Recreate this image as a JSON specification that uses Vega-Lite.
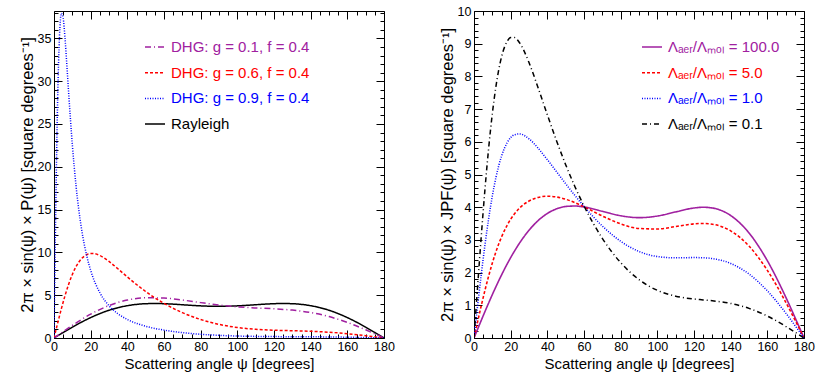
{
"$schema": "https://vega.github.io/schema/vega-lite/v6.json",
"padding": {"left": 18, "top": 4, "right": 5, "bottom": 5},
"spacing": 90,
"bounds": "flush",
"resolve": {"scale": {"color": "independent", "strokeDash": "independent", "strokeWidth": "independent"}, "legend": {"color": "independent", "strokeDash": "independent", "strokeWidth": "independent"}},
"config": {
  "font": "Liberation Sans",
  "view": {"stroke": "black", "strokeWidth": 1},
  "axis": {"labelFont": "Liberation Sans", "labelFontSize": 12.5, "labelColor": "black", "titleFont": "Liberation Sans", "titleFontSize": 15, "titleFontWeight": "normal", "titleColor": "black", "tickColor": "black", "tickWidth": 1, "domain": false, "grid": false, "labelFlush": false, "labelOverlap": false, "labelBound": false},
  "legend": {"labelFont": "Liberation Sans", "labelFontSize": 15, "labelLimit": 400, "symbolType": "stroke", "symbolSize": 400, "rowPadding": 6.7, "labelOffset": 5, "orient": "none", "padding": 0}
},
"datasets": {
"left": [
{"s":"Rayleigh","psi":0,"v":0},{"s":"Rayleigh","psi":5,"v":0.643},{"s":"Rayleigh","psi":10,"v":1.266},{"s":"Rayleigh","psi":15,"v":1.852},{"s":"Rayleigh","psi":20,"v":2.384},{"s":"Rayleigh","psi":25,"v":2.849},{"s":"Rayleigh","psi":30,"v":3.239},{"s":"Rayleigh","psi":35,"v":3.547},{"s":"Rayleigh","psi":40,"v":3.775},{"s":"Rayleigh","psi":45,"v":3.926},{"s":"Rayleigh","psi":50,"v":4.007},{"s":"Rayleigh","psi":55,"v":4.029},{"s":"Rayleigh","psi":60,"v":4.007},{"s":"Rayleigh","psi":65,"v":3.954},{"s":"Rayleigh","psi":70,"v":3.885},{"s":"Rayleigh","psi":75,"v":3.815},{"s":"Rayleigh","psi":80,"v":3.755},{"s":"Rayleigh","psi":85,"v":3.715},{"s":"Rayleigh","psi":90,"v":3.701},{"s":"Rayleigh","psi":95,"v":3.715},{"s":"Rayleigh","psi":100,"v":3.755},{"s":"Rayleigh","psi":105,"v":3.815},{"s":"Rayleigh","psi":110,"v":3.885},{"s":"Rayleigh","psi":115,"v":3.954},{"s":"Rayleigh","psi":120,"v":4.007},{"s":"Rayleigh","psi":125,"v":4.029},{"s":"Rayleigh","psi":130,"v":4.007},{"s":"Rayleigh","psi":135,"v":3.926},{"s":"Rayleigh","psi":140,"v":3.775},{"s":"Rayleigh","psi":145,"v":3.547},{"s":"Rayleigh","psi":150,"v":3.239},{"s":"Rayleigh","psi":155,"v":2.849},{"s":"Rayleigh","psi":160,"v":2.384},{"s":"Rayleigh","psi":165,"v":1.852},{"s":"Rayleigh","psi":170,"v":1.266},{"s":"Rayleigh","psi":175,"v":0.643},{"s":"Rayleigh","psi":180,"v":0},
{"s":"DHG: g = 0.1, f = 0.4","psi":0,"v":0},{"s":"DHG: g = 0.1, f = 0.4","psi":5,"v":0.749},{"s":"DHG: g = 0.1, f = 0.4","psi":10,"v":1.476},{"s":"DHG: g = 0.1, f = 0.4","psi":20,"v":2.785},{"s":"DHG: g = 0.1, f = 0.4","psi":30,"v":3.793},{"s":"DHG: g = 0.1, f = 0.4","psi":40,"v":4.430},{"s":"DHG: g = 0.1, f = 0.4","psi":50,"v":4.699},{"s":"DHG: g = 0.1, f = 0.4","psi":60,"v":4.665},{"s":"DHG: g = 0.1, f = 0.4","psi":70,"v":4.437},{"s":"DHG: g = 0.1, f = 0.4","psi":80,"v":4.133},{"s":"DHG: g = 0.1, f = 0.4","psi":90,"v":3.851},{"s":"DHG: g = 0.1, f = 0.4","psi":100,"v":3.643},{"s":"DHG: g = 0.1, f = 0.4","psi":110,"v":3.512},{"s":"DHG: g = 0.1, f = 0.4","psi":120,"v":3.409},{"s":"DHG: g = 0.1, f = 0.4","psi":130,"v":3.257},{"s":"DHG: g = 0.1, f = 0.4","psi":140,"v":2.974},{"s":"DHG: g = 0.1, f = 0.4","psi":150,"v":2.500},{"s":"DHG: g = 0.1, f = 0.4","psi":160,"v":1.817},{"s":"DHG: g = 0.1, f = 0.4","psi":170,"v":0.959},{"s":"DHG: g = 0.1, f = 0.4","psi":175,"v":0.486},{"s":"DHG: g = 0.1, f = 0.4","psi":180,"v":0},
{"s":"DHG: g = 0.6, f = 0.4","psi":0,"v":0},{"s":"DHG: g = 0.6, f = 0.4","psi":2,"v":1.738},{"s":"DHG: g = 0.6, f = 0.4","psi":4,"v":3.405},{"s":"DHG: g = 0.6, f = 0.4","psi":6,"v":4.938},{"s":"DHG: g = 0.6, f = 0.4","psi":8,"v":6.287},{"s":"DHG: g = 0.6, f = 0.4","psi":10,"v":7.421},{"s":"DHG: g = 0.6, f = 0.4","psi":12,"v":8.326},{"s":"DHG: g = 0.6, f = 0.4","psi":15,"v":9.265},{"s":"DHG: g = 0.6, f = 0.4","psi":18,"v":9.751},{"s":"DHG: g = 0.6, f = 0.4","psi":20,"v":9.869},{"s":"DHG: g = 0.6, f = 0.4","psi":22,"v":9.851},{"s":"DHG: g = 0.6, f = 0.4","psi":25,"v":9.633},{"s":"DHG: g = 0.6, f = 0.4","psi":30,"v":8.941},{"s":"DHG: g = 0.6, f = 0.4","psi":35,"v":8.057},{"s":"DHG: g = 0.6, f = 0.4","psi":40,"v":7.133},{"s":"DHG: g = 0.6, f = 0.4","psi":45,"v":6.246},{"s":"DHG: g = 0.6, f = 0.4","psi":50,"v":5.430},{"s":"DHG: g = 0.6, f = 0.4","psi":55,"v":4.695},{"s":"DHG: g = 0.6, f = 0.4","psi":60,"v":4.042},{"s":"DHG: g = 0.6, f = 0.4","psi":70,"v":2.964},{"s":"DHG: g = 0.6, f = 0.4","psi":80,"v":2.160},{"s":"DHG: g = 0.6, f = 0.4","psi":90,"v":1.593},{"s":"DHG: g = 0.6, f = 0.4","psi":100,"v":1.227},{"s":"DHG: g = 0.6, f = 0.4","psi":110,"v":1.017},{"s":"DHG: g = 0.6, f = 0.4","psi":120,"v":0.911},{"s":"DHG: g = 0.6, f = 0.4","psi":130,"v":0.851},{"s":"DHG: g = 0.6, f = 0.4","psi":140,"v":0.785},{"s":"DHG: g = 0.6, f = 0.4","psi":150,"v":0.674},{"s":"DHG: g = 0.6, f = 0.4","psi":160,"v":0.500},{"s":"DHG: g = 0.6, f = 0.4","psi":170,"v":0.267},{"s":"DHG: g = 0.6, f = 0.4","psi":175,"v":0.136},{"s":"DHG: g = 0.6, f = 0.4","psi":180,"v":0},
{"s":"DHG: g = 0.9, f = 0.4","psi":0,"v":0},{"s":"DHG: g = 0.9, f = 0.4","psi":1,"v":15.715},{"s":"DHG: g = 0.9, f = 0.4","psi":2,"v":27.998},{"s":"DHG: g = 0.9, f = 0.4","psi":3,"v":35.260},{"s":"DHG: g = 0.9, f = 0.4","psi":4,"v":37.920},{"s":"DHG: g = 0.9, f = 0.4","psi":5,"v":37.375},{"s":"DHG: g = 0.9, f = 0.4","psi":6,"v":35.031},{"s":"DHG: g = 0.9, f = 0.4","psi":7,"v":31.906},{"s":"DHG: g = 0.9, f = 0.4","psi":8,"v":28.607},{"s":"DHG: g = 0.9, f = 0.4","psi":10,"v":22.585},{"s":"DHG: g = 0.9, f = 0.4","psi":12,"v":17.819},{"s":"DHG: g = 0.9, f = 0.4","psi":15,"v":12.773},{"s":"DHG: g = 0.9, f = 0.4","psi":18,"v":9.471},{"s":"DHG: g = 0.9, f = 0.4","psi":20,"v":7.899},{"s":"DHG: g = 0.9, f = 0.4","psi":25,"v":5.296},{"s":"DHG: g = 0.9, f = 0.4","psi":30,"v":3.773},{"s":"DHG: g = 0.9, f = 0.4","psi":35,"v":2.812},{"s":"DHG: g = 0.9, f = 0.4","psi":40,"v":2.167},{"s":"DHG: g = 0.9, f = 0.4","psi":50,"v":1.375},{"s":"DHG: g = 0.9, f = 0.4","psi":60,"v":0.919},{"s":"DHG: g = 0.9, f = 0.4","psi":70,"v":0.628},{"s":"DHG: g = 0.9, f = 0.4","psi":80,"v":0.435},{"s":"DHG: g = 0.9, f = 0.4","psi":90,"v":0.308},{"s":"DHG: g = 0.9, f = 0.4","psi":100,"v":0.230},{"s":"DHG: g = 0.9, f = 0.4","psi":120,"v":0.165},{"s":"DHG: g = 0.9, f = 0.4","psi":140,"v":0.144},{"s":"DHG: g = 0.9, f = 0.4","psi":160,"v":0.092},{"s":"DHG: g = 0.9, f = 0.4","psi":170,"v":0.050},{"s":"DHG: g = 0.9, f = 0.4","psi":180,"v":0}
],
"right": [
{"s":"100.0","psi":0,"v":0},{"s":"100.0","psi":2,"v":0.273},{"s":"100.0","psi":4,"v":0.544},{"s":"100.0","psi":6,"v":0.811},{"s":"100.0","psi":8,"v":1.072},{"s":"100.0","psi":10,"v":1.327},{"s":"100.0","psi":12,"v":1.573},{"s":"100.0","psi":15,"v":1.925},{"s":"100.0","psi":18,"v":2.253},{"s":"100.0","psi":20,"v":2.458},{"s":"100.0","psi":22,"v":2.650},{"s":"100.0","psi":25,"v":2.916},{"s":"100.0","psi":30,"v":3.295},{"s":"100.0","psi":35,"v":3.592},{"s":"100.0","psi":40,"v":3.808},{"s":"100.0","psi":45,"v":3.949},{"s":"100.0","psi":50,"v":4.021},{"s":"100.0","psi":55,"v":4.036},{"s":"100.0","psi":60,"v":4.007},{"s":"100.0","psi":70,"v":3.876},{"s":"100.0","psi":80,"v":3.739},{"s":"100.0","psi":90,"v":3.680},{"s":"100.0","psi":100,"v":3.730},{"s":"100.0","psi":110,"v":3.856},{"s":"100.0","psi":120,"v":3.976},{"s":"100.0","psi":125,"v":3.998},{"s":"100.0","psi":130,"v":3.976},{"s":"100.0","psi":140,"v":3.746},{"s":"100.0","psi":150,"v":3.213},{"s":"100.0","psi":160,"v":2.365},{"s":"100.0","psi":170,"v":1.256},{"s":"100.0","psi":175,"v":0.638},{"s":"100.0","psi":180,"v":0},
{"s":"5.0","psi":0,"v":0},{"s":"5.0","psi":2,"v":0.505},{"s":"5.0","psi":4,"v":0.997},{"s":"5.0","psi":6,"v":1.464},{"s":"5.0","psi":8,"v":1.898},{"s":"5.0","psi":10,"v":2.292},{"s":"5.0","psi":12,"v":2.643},{"s":"5.0","psi":15,"v":3.087},{"s":"5.0","psi":18,"v":3.440},{"s":"5.0","psi":20,"v":3.631},{"s":"5.0","psi":22,"v":3.790},{"s":"5.0","psi":25,"v":3.980},{"s":"5.0","psi":30,"v":4.189},{"s":"5.0","psi":35,"v":4.299},{"s":"5.0","psi":40,"v":4.335},{"s":"5.0","psi":45,"v":4.312},{"s":"5.0","psi":50,"v":4.244},{"s":"5.0","psi":55,"v":4.140},{"s":"5.0","psi":60,"v":4.013},{"s":"5.0","psi":70,"v":3.731},{"s":"5.0","psi":80,"v":3.489},{"s":"5.0","psi":90,"v":3.350},{"s":"5.0","psi":100,"v":3.334},{"s":"5.0","psi":110,"v":3.407},{"s":"5.0","psi":120,"v":3.491},{"s":"5.0","psi":125,"v":3.504},{"s":"5.0","psi":130,"v":3.481},{"s":"5.0","psi":140,"v":3.277},{"s":"5.0","psi":150,"v":2.811},{"s":"5.0","psi":160,"v":2.070},{"s":"5.0","psi":170,"v":1.100},{"s":"5.0","psi":175,"v":0.558},{"s":"5.0","psi":180,"v":0},
{"s":"1.0","psi":0,"v":0},{"s":"1.0","psi":2,"v":0.998},{"s":"1.0","psi":4,"v":1.960},{"s":"1.0","psi":6,"v":2.854},{"s":"1.0","psi":8,"v":3.654},{"s":"1.0","psi":10,"v":4.343},{"s":"1.0","psi":12,"v":4.916},{"s":"1.0","psi":15,"v":5.558},{"s":"1.0","psi":18,"v":5.965},{"s":"1.0","psi":20,"v":6.126},{"s":"1.0","psi":22,"v":6.215},{"s":"1.0","psi":25,"v":6.241},{"s":"1.0","psi":30,"v":6.090},{"s":"1.0","psi":35,"v":5.802},{"s":"1.0","psi":40,"v":5.454},{"s":"1.0","psi":45,"v":5.086},{"s":"1.0","psi":50,"v":4.718},{"s":"1.0","psi":55,"v":4.362},{"s":"1.0","psi":60,"v":4.024},{"s":"1.0","psi":70,"v":3.425},{"s":"1.0","psi":80,"v":2.957},{"s":"1.0","psi":90,"v":2.647},{"s":"1.0","psi":100,"v":2.491},{"s":"1.0","psi":110,"v":2.451},{"s":"1.0","psi":120,"v":2.459},{"s":"1.0","psi":125,"v":2.454},{"s":"1.0","psi":130,"v":2.429},{"s":"1.0","psi":140,"v":2.280},{"s":"1.0","psi":150,"v":1.956},{"s":"1.0","psi":160,"v":1.442},{"s":"1.0","psi":170,"v":0.767},{"s":"1.0","psi":175,"v":0.389},{"s":"1.0","psi":180,"v":0},
{"s":"0.1","psi":0,"v":0},{"s":"0.1","psi":2,"v":1.604},{"s":"0.1","psi":4,"v":3.142},{"s":"0.1","psi":6,"v":4.559},{"s":"0.1","psi":8,"v":5.808},{"s":"0.1","psi":10,"v":6.861},{"s":"0.1","psi":12,"v":7.706},{"s":"0.1","psi":15,"v":8.591},{"s":"0.1","psi":18,"v":9.063},{"s":"0.1","psi":20,"v":9.188},{"s":"0.1","psi":22,"v":9.190},{"s":"0.1","psi":25,"v":9.016},{"s":"0.1","psi":30,"v":8.423},{"s":"0.1","psi":35,"v":7.647},{"s":"0.1","psi":40,"v":6.827},{"s":"0.1","psi":45,"v":6.035},{"s":"0.1","psi":50,"v":5.301},{"s":"0.1","psi":55,"v":4.635},{"s":"0.1","psi":60,"v":4.039},{"s":"0.1","psi":70,"v":3.048},{"s":"0.1","psi":80,"v":2.305},{"s":"0.1","psi":90,"v":1.785},{"s":"0.1","psi":100,"v":1.457},{"s":"0.1","psi":110,"v":1.278},{"s":"0.1","psi":120,"v":1.192},{"s":"0.1","psi":125,"v":1.165},{"s":"0.1","psi":130,"v":1.138},{"s":"0.1","psi":140,"v":1.057},{"s":"0.1","psi":150,"v":0.907},{"s":"0.1","psi":160,"v":0.671},{"s":"0.1","psi":170,"v":0.358},{"s":"0.1","psi":175,"v":0.182},{"s":"0.1","psi":180,"v":0}
]
},
"hconcat": [
{
  "width": 330, "height": 327,
  "data": {"name": "left"},
  "resolve": {"axis": {"x": "independent", "y": "independent"}},
  "layer": [
    {
      "mark": {"type": "line", "interpolate": "monotone", "clip": true},
      "encoding": {
        "x": {"field": "psi", "type": "quantitative", "scale": {"domain": [0, 180], "nice": false, "zero": false},
          "axis": {"orient": "bottom", "title": "Scattering angle ψ [degrees]", "values": [0,20,40,60,80,100,120,140,160,180], "tickSize": -8, "labelPadding": 10, "titlePadding": 4}},
        "y": {"field": "v", "type": "quantitative", "scale": {"domain": [0, 38.2], "nice": false},
          "axis": {"orient": "left", "title": "2π × sin(ψ) × P(ψ) [square degrees⁻¹]", "titleFontSize": 16.5, "values": [0,5,10,15,20,25,30,35], "tickSize": -8, "labelPadding": 11, "titlePadding": 2}},
        "color": {"field": "s", "type": "nominal",
          "scale": {"domain": ["DHG: g = 0.1, f = 0.4", "DHG: g = 0.6, f = 0.4", "DHG: g = 0.9, f = 0.4", "Rayleigh"], "range": ["#a020a0", "#ff0000", "#0000ff", "#000000"]},
          "legend": {"title": null, "legendX": 90, "legendY": 25, "labelFontSize": 15, "labelColor": {"expr": "indexof(datum.value, '0.1,') >= 0 ? '#a020a0' : indexof(datum.value, '0.6,') >= 0 ? '#ff0000' : indexof(datum.value, '0.9,') >= 0 ? '#0000ff' : '#000000'"}}},
        "strokeDash": {"field": "s", "type": "nominal",
          "scale": {"domain": ["DHG: g = 0.1, f = 0.4", "DHG: g = 0.6, f = 0.4", "DHG: g = 0.9, f = 0.4", "Rayleigh"], "range": [[6,3,1,3], [3,2], [1,1.5], [1,0]]}},
        "strokeWidth": {"field": "s", "type": "nominal",
          "scale": {"domain": ["DHG: g = 0.1, f = 0.4", "DHG: g = 0.6, f = 0.4", "DHG: g = 0.9, f = 0.4", "Rayleigh"], "range": [1.5, 1.5, 1.3, 2]}}
      }
    },
    {
      "mark": {"type": "line", "opacity": 0},
      "encoding": {
        "x": {"field": "psi", "type": "quantitative", "scale": {"domain": [0, 180], "nice": false, "zero": false},
          "axis": {"orient": "top", "title": null, "labels": false, "values": [0,20,40,60,80,100,120,140,160,180], "tickSize": -8}},
        "y": {"field": "v", "type": "quantitative", "scale": {"domain": [0, 38.2], "nice": false},
          "axis": {"orient": "right", "title": null, "labels": false, "values": [0,5,10,15,20,25,30,35], "tickSize": -8}}
      }
    },
    {
      "mark": {"type": "line", "opacity": 0},
      "encoding": {
        "x": {"field": "psi", "type": "quantitative", "scale": {"domain": [0, 180], "nice": false, "zero": false},
          "axis": {"orient": "bottom", "title": null, "labels": false, "values": [5,10,15,25,30,35,45,50,55,65,70,75,85,90,95,105,110,115,125,130,135,145,150,155,165,170,175], "tickSize": -4}},
        "y": {"field": "v", "type": "quantitative", "scale": {"domain": [0, 38.2], "nice": false},
          "axis": {"orient": "left", "title": null, "labels": false, "values": [1,2,3,4,6,7,8,9,11,12,13,14,16,17,18,19,21,22,23,24,26,27,28,29,31,32,33,34,36,37,38], "tickSize": -4}}
      }
    },
    {
      "mark": {"type": "line", "opacity": 0},
      "encoding": {
        "x": {"field": "psi", "type": "quantitative", "scale": {"domain": [0, 180], "nice": false, "zero": false},
          "axis": {"orient": "top", "title": null, "labels": false, "values": [5,10,15,25,30,35,45,50,55,65,70,75,85,90,95,105,110,115,125,130,135,145,150,155,165,170,175], "tickSize": -4}},
        "y": {"field": "v", "type": "quantitative", "scale": {"domain": [0, 38.2], "nice": false},
          "axis": {"orient": "right", "title": null, "labels": false, "values": [1,2,3,4,6,7,8,9,11,12,13,14,16,17,18,19,21,22,23,24,26,27,28,29,31,32,33,34,36,37,38], "tickSize": -4}}
      }
    }
  ]
},
{
  "width": 330, "height": 327,
  "data": {"name": "right"},
  "resolve": {"axis": {"x": "independent", "y": "independent"}},
  "layer": [
    {
      "mark": {"type": "line", "interpolate": "monotone", "clip": true},
      "encoding": {
        "x": {"field": "psi", "type": "quantitative", "scale": {"domain": [0, 180], "nice": false, "zero": false},
          "axis": {"orient": "bottom", "title": "Scattering angle ψ [degrees]", "values": [0,20,40,60,80,100,120,140,160,180], "tickSize": -8, "labelPadding": 10, "titlePadding": 4}},
        "y": {"field": "v", "type": "quantitative", "scale": {"domain": [0, 10], "nice": false},
          "axis": {"orient": "left", "title": "2π × sin(ψ) × JPF(ψ) [square degrees⁻¹]", "titleFontSize": 16.5, "format": "d", "values": [0,1,2,3,4,5,6,7,8,9,10], "tickSize": -8, "labelPadding": 11, "titlePadding": 2}},
        "color": {"field": "s", "type": "nominal",
          "scale": {"domain": ["100.0", "5.0", "1.0", "0.1"], "range": ["#a020a0", "#ff0000", "#0000ff", "#000000"]},
          "legend": {"title": null, "legendX": 167, "legendY": 25, "labelFontSize": 15, "labelExpr": "'Λₐₑᵣ/Λₘₒₗ = ' + datum.label", "labelColor": {"expr": "datum.value === '100.0' ? '#a020a0' : datum.value === '5.0' ? '#ff0000' : datum.value === '1.0' ? '#0000ff' : '#000000'"}}},
        "strokeDash": {"field": "s", "type": "nominal",
          "scale": {"domain": ["100.0", "5.0", "1.0", "0.1"], "range": [[1,0], [3,2], [1,1.5], [5,3,1,3]]}},
        "strokeWidth": {"field": "s", "type": "nominal",
          "scale": {"domain": ["100.0", "5.0", "1.0", "0.1"], "range": [1.6, 1.5, 1.3, 1.3]}}
      }
    },
    {
      "mark": {"type": "line", "opacity": 0},
      "encoding": {
        "x": {"field": "psi", "type": "quantitative", "scale": {"domain": [0, 180], "nice": false, "zero": false},
          "axis": {"orient": "top", "title": null, "labels": false, "values": [0,20,40,60,80,100,120,140,160,180], "tickSize": -8}},
        "y": {"field": "v", "type": "quantitative", "scale": {"domain": [0, 10], "nice": false},
          "axis": {"orient": "right", "title": null, "labels": false, "values": [0,1,2,3,4,5,6,7,8,9,10], "tickSize": -8}}
      }
    },
    {
      "mark": {"type": "line", "opacity": 0},
      "encoding": {
        "x": {"field": "psi", "type": "quantitative", "scale": {"domain": [0, 180], "nice": false, "zero": false},
          "axis": {"orient": "bottom", "title": null, "labels": false, "values": [5,10,15,25,30,35,45,50,55,65,70,75,85,90,95,105,110,115,125,130,135,145,150,155,165,170,175], "tickSize": -4}},
        "y": {"field": "v", "type": "quantitative", "scale": {"domain": [0, 10], "nice": false},
          "axis": {"orient": "left", "title": null, "labels": false, "values": [0.2,0.4,0.6,0.8,1.2,1.4,1.6,1.8,2.2,2.4,2.6,2.8,3.2,3.4,3.6,3.8,4.2,4.4,4.6,4.8,5.2,5.4,5.6,5.8,6.2,6.4,6.6,6.8,7.2,7.4,7.6,7.8,8.2,8.4,8.6,8.8,9.2,9.4,9.6,9.8], "tickSize": -4}}
      }
    },
    {
      "mark": {"type": "line", "opacity": 0},
      "encoding": {
        "x": {"field": "psi", "type": "quantitative", "scale": {"domain": [0, 180], "nice": false, "zero": false},
          "axis": {"orient": "top", "title": null, "labels": false, "values": [5,10,15,25,30,35,45,50,55,65,70,75,85,90,95,105,110,115,125,130,135,145,150,155,165,170,175], "tickSize": -4}},
        "y": {"field": "v", "type": "quantitative", "scale": {"domain": [0, 10], "nice": false},
          "axis": {"orient": "right", "title": null, "labels": false, "values": [0.2,0.4,0.6,0.8,1.2,1.4,1.6,1.8,2.2,2.4,2.6,2.8,3.2,3.4,3.6,3.8,4.2,4.4,4.6,4.8,5.2,5.4,5.6,5.8,6.2,6.4,6.6,6.8,7.2,7.4,7.6,7.8,8.2,8.4,8.6,8.8,9.2,9.4,9.6,9.8], "tickSize": -4}}
      }
    }
  ]
}
]
}
